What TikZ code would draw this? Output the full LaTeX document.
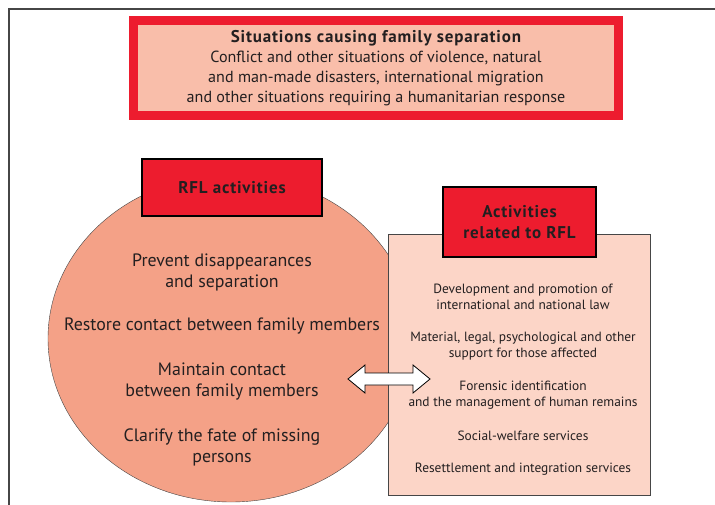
\documentclass[tikz,border=0pt]{standalone}
\usepackage{fontspec}
\setmainfont{PT Sans}
\newfontfamily\headfont{PT Sans}[LetterSpace=5]
\usepackage{xcolor}
\usetikzlibrary{shapes.geometric,positioning}

\definecolor{rflred}{RGB}{237,28,46}
\definecolor{toppink}{RGB}{249,190,170}
\definecolor{ovalpink}{RGB}{244,161,135}
\definecolor{boxpink}{RGB}{252,213,199}
\definecolor{framegray}{RGB}{70,70,70}
\definecolor{inkgray}{RGB}{35,31,32}

\begin{document}
\begin{tikzpicture}[x=1pt,y=-1pt, text=inkgray,
  redtab/.style={draw=black, line width=1.3pt, fill=rflred, align=center,
    inner sep=0pt, font=\headfont\bfseries\fontsize{17}{21}\selectfont},
  ovaltext/.style={align=center, font=\fontsize{17.9}{21}\selectfont},
  boxtext/.style={align=center, font=\fontsize{13.4}{16}\selectfont}]

\useasboundingbox (0,0) rectangle (715,505);

% FRAME
  \draw[framegray, line width=1.5pt] (9,505) -- (9,9) -- (715,9);

% SITUATIONS
  \node[draw=rflred, line width=9pt, fill=toppink, minimum width=485,
        minimum height=95, align=center, inner sep=0pt,
        font=\fontsize{16.1}{20}\selectfont] (situations) at (376,68)
        {{\headfont\bfseries\fontsize{17}{20}\selectfont Situations causing family separation}\\
         Conflict and other situations of violence, natural\\
         and man-made disasters, international migration\\
         and other situations requiring a humanitarian response};

% RFL ACTIVITIES
  \node[ellipse, draw=framegray, fill=ovalpink, minimum width=366,
        minimum height=327, inner sep=0pt] (oval) at (231,338.5) {};
  \node[draw=framegray, fill=boxpink, minimum width=262, minimum height=261,
        inner sep=0pt] (related) at (519,364.5) {};
  \node[redtab, minimum width=180, minimum height=57] (rfltab) at (232,187.5)
        {RFL activities};

  \node[ovaltext] (prevent)  at (222,272) {Prevent disappearances\\and separation};
  \node[ovaltext] (restore)  at (222,326) {Restore contact between family members};
  \node[ovaltext] (maintain) at (222,381) {Maintain contact\\between family members};
  \node[ovaltext] (clarify)  at (222,447) {Clarify the fate of missing\\persons};

% RELATED ACTIVITIES
  \node[redtab, minimum width=153, minimum height=70] (reltab) at (519.5,222)
        {Activities\\related to RFL};

  \node[boxtext] (law)       at (523,297) {Development and promotion of\\international and national law};
  \node[boxtext] (support)   at (523,346) {Material, legal, psychological and other\\support for those affected};
  \node[boxtext] (forensic)  at (523,395) {Forensic identification\\and the management of human remains};
  \node[boxtext] (welfare)   at (523,436) {Social-welfare services};
  \node[boxtext] (resettle)  at (523,469) {Resettlement and integration services};

% DOUBLE ARROW
  \coordinate (lefttip)  at (348,379);
  \coordinate (righttip) at (430,379);
  \draw[black, line width=0.8pt, fill=white, line join=miter]
    (lefttip) -- ++(17,-14) -- ++(0,8) -- ++(48,0) -- ++(0,-8)
    -- (righttip) -- ++(-17,14) -- ++(0,-8) -- ++(-48,0) -- ++(0,8) -- cycle;

\end{tikzpicture}
\end{document}
